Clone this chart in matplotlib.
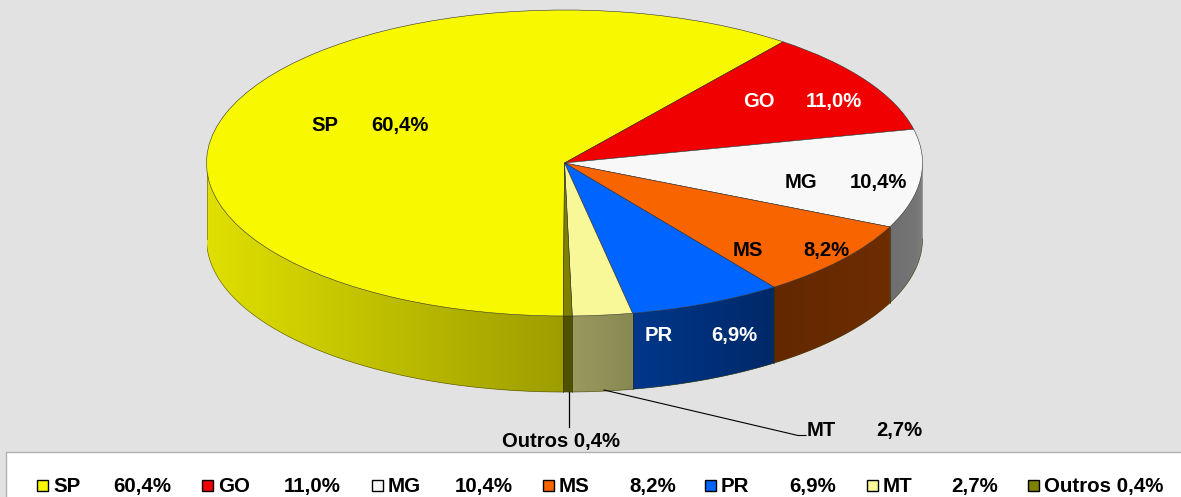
import numpy as np
import matplotlib
matplotlib.use('Agg')
import matplotlib.pyplot as plt
from matplotlib.colors import to_rgb
from matplotlib.lines import Line2D
from matplotlib.patches import Rectangle

# datos del grafico
estados = ['SP', 'GO', 'MG', 'MS', 'PR', 'MT', 'Outros']
valores = [60.4, 11.0, 10.4, 8.2, 6.9, 2.7, 0.4]
textos = ['60,4%', '11,0%', '10,4%', '8,2%', '6,9%', '2,7%', '0,4%']
colores = ['#F8F800', '#F00000', '#F8F8F8', '#F86400', '#0064FF', '#F8F898', '#808000']

W, H = 1181, 497
FONDO = '#E2E2E2'
PROF = 0.497  # alto de la pared del disco
plt.rcParams['font.family'] = ['Liberation Sans', 'DejaVu Sans']

fig = plt.figure(figsize=(W / 100, H / 100), dpi=100, facecolor=FONDO)


def fx(x):
    return x / W


def fy(y):
    return 1 - y / H


def sombra(x):
    # la pared se oscurece de izquierda a derecha
    return np.interp(x, [-1, 0, 0.2, 0.6, 0.9, 1], [0.90, 0.63, 0.54, 0.40, 0.44, 0.48])


# ejes del disco: centro (564.5, 163), radios 358 x 153 px
ax = fig.add_axes([fx(206.5), fy(10 + 2.6 * 153), 716 / W, 2.6 * 153 / H])

# paredes, solo la parte de adelante del disco
ini = 269.8
for valor, color in zip(valores, colores):
    fin = ini - valor * 3.6
    if ini > 0 and fin > 0:
        a, b = max(fin, 180), ini
    else:
        a, b = fin, min(ini, 0)
    if b > a:
        n = max(int(b - a) * 2, 2)
        ts = np.radians(np.linspace(a, b, n + 1))
        rgb = np.array(to_rgb(color))
        for i in range(n):
            # cada tira pisa a la siguiente para que no se vean uniones
            xs = np.cos(ts[i:i + 3])
            ys = np.sin(ts[i:i + 3])
            c = rgb * sombra(np.cos(ts[i:i + 2]).mean())
            ax.fill(np.r_[xs, xs[::-1]], np.r_[ys, ys[::-1] - PROF], color=c, lw=0, zorder=1)
        ax.plot(np.cos(ts), np.sin(ts) - PROF, color='#404000', lw=0.5, alpha=0.7, zorder=2)
        for t in (a, b):
            xv = np.cos(np.radians(t))
            yv = np.sin(np.radians(t))
            ax.plot([xv, xv], [yv, yv - PROF], color='#303000', lw=0.5, alpha=0.6, zorder=2)
    ini = fin

# tapa del disco
wedges, _ = ax.pie(valores, colors=colores, startangle=-90.2, counterclock=False,
                   radius=1, center=(0, 0),
                   wedgeprops={'edgecolor': '#303030', 'linewidth': 0.4})
for w in wedges:
    w.set_zorder(3)
ax.set_aspect('auto')
ax.set_xlim(-1, 1)
ax.set_ylim(-1.6, 1)
ax.axis('off')

# etiquetas sobre el disco
pos_x_nombre = [311, 743, 785, 733, 645]
pos_x_valor = [371, 806, 850, 803, 711]
pos_y = [125.5, 101.5, 182.5, 250.5, 335.5]
col_texto = ['black', 'white', 'black', 'black', 'white']
for i in range(5):
    fig.text(fx(pos_x_nombre[i]), fy(pos_y[i]), estados[i], color=col_texto[i],
             fontsize=14.6, fontweight='bold', va='center')
    fig.text(fx(pos_x_valor[i]), fy(pos_y[i]), textos[i], color=col_texto[i],
             fontsize=14.6, fontweight='bold', va='center')
fig.text(fx(807), fy(430.5), 'MT', fontsize=14.6, fontweight='bold', va='center')
fig.text(fx(876), fy(430.5), '2,7%', fontsize=14.6, fontweight='bold', va='center')
fig.text(fx(502), fy(442), 'Outros 0,4%', fontsize=14.6, fontweight='bold', va='center')

# lineas guia
fig.add_artist(Line2D([fx(569), fx(569)], [fy(392), fy(427)], color='black', lw=0.9))
fig.add_artist(Line2D([fx(604), fx(798), fx(806)], [fy(390), fy(435.5), fy(435.5)], color='black', lw=0.8))

# leyenda
fig.add_artist(Rectangle((fx(6), -0.02), 1.02, fy(452) + 0.02, transform=fig.transFigure,
                         facecolor='white', edgecolor='#B0B0B0', lw=1))
ley_marca = [37, 202, 372, 543, 705, 867, 1028]
ley_valor = [113, 284, 455, 629, 789, 951, None]
for i, est in enumerate(estados):
    m = ley_marca[i]
    fig.add_artist(Rectangle((fx(m), fy(491)), 11 / W, 11 / H, transform=fig.transFigure,
                             facecolor=colores[i], edgecolor='black', lw=1))
    if ley_valor[i] is None:
        fig.text(fx(m + 16), fy(486.5), est + ' ' + textos[i], fontsize=14.8, fontweight='bold', va='center')
    else:
        fig.text(fx(m + 16), fy(486.5), est, fontsize=14.8, fontweight='bold', va='center')
        fig.text(fx(ley_valor[i]), fy(486.5), textos[i], fontsize=14.8, fontweight='bold', va='center')

fig.savefig('out.png', dpi=100, facecolor=FONDO)
